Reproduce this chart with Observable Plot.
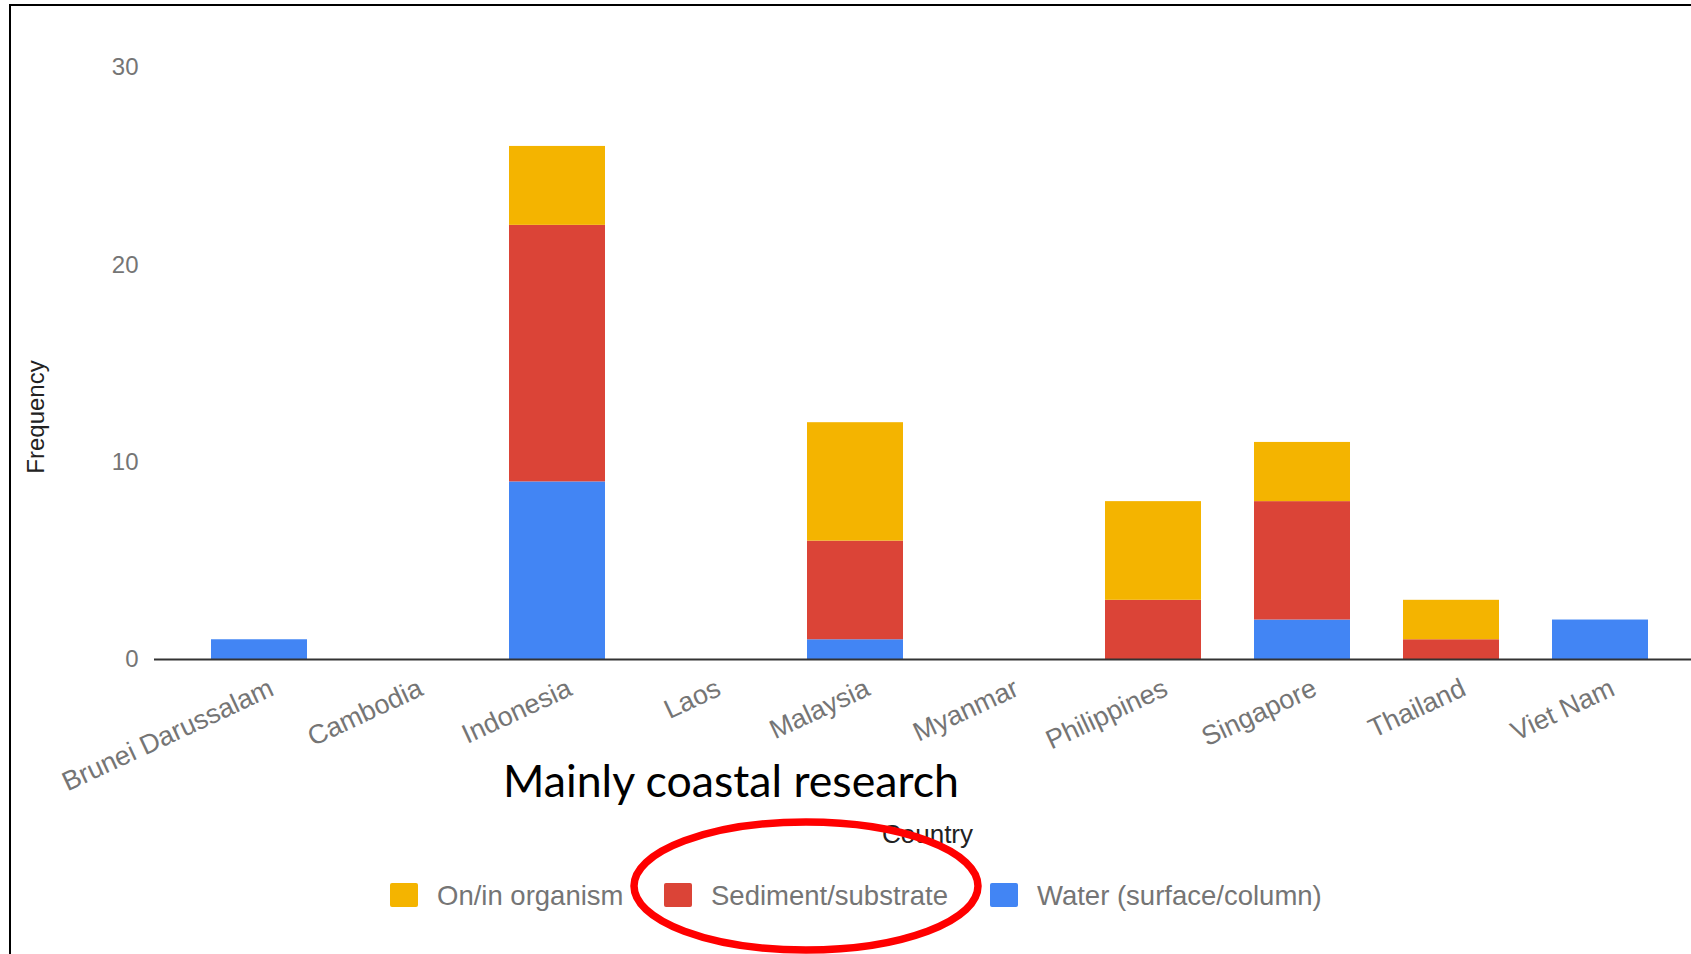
<!DOCTYPE html>
<html>
<head>
<meta charset="utf-8">
<script src="https://cdn.jsdelivr.net/npm/d3@7"></script>
<script src="https://cdn.jsdelivr.net/npm/@observablehq/plot@0.6"></script>
<style>
  html, body { margin: 0; padding: 0; background: #fff; }
  #wrap { position: relative; width: 1691px; height: 954px; overflow: hidden; }
  #wrap svg { display: block; }
  #border { position: absolute; left: 9px; top: 4px; width: 3000px; height: 3000px;
            border-left: 2.5px solid #000; border-top: 2.5px solid #000; pointer-events: none; }
</style>
</head>
<body>
<div id="wrap"><div id="border"></div></div>
<script>
// ---- data ----
const countries = ["Brunei Darussalam", "Cambodia", "Indonesia", "Laos", "Malaysia",
                   "Myanmar", "Philippines", "Singapore", "Thailand", "Viet Nam"];
const water    = [1, 0, 9, 0, 1, 0, 0, 2, 0, 2];
const sediment = [0, 0, 13, 0, 5, 0, 3, 6, 1, 0];
const organism = [0, 0, 4, 0, 6, 0, 5, 3, 2, 0];
const seriesNames  = ["On/in organism", "Sediment/substrate", "Water (surface/column)"];
const seriesColors = ["#F4B400", "#DB4437", "#4285F4"];
const yTicks = [0, 10, 20, 30];
const yLabel = "Frequency";
const xLabel = "Country";
const annotation = "Mainly coastal research";

// stack order bottom -> top : water, sediment, organism
const rows = [];
countries.forEach((c, i) => {
  rows.push({country: c, series: seriesNames[2], value: water[i]});
  rows.push({country: c, series: seriesNames[1], value: sediment[i]});
  rows.push({country: c, series: seriesNames[0], value: organism[i]});
});
const bars = rows.filter(d => d.value > 0);

const W = 1691, H = 954;
const font = "'Liberation Sans', Arial, sans-serif";

const svg = Plot.plot({
  width: W,
  height: H,
  marginLeft: 154,
  marginRight: 0,
  marginTop: 67,
  marginBottom: 295,
  style: {fontFamily: font, background: "transparent"},
  x: {type: "band", domain: countries, range: [181, 1677.5], paddingInner: 0.357, paddingOuter: 0.1785},
  y: {domain: [0, 30]},
  color: {domain: seriesNames, range: seriesColors},
  marks: [
    Plot.barY(bars, {x: "country", y: "value", fill: "series", order: null}),
    Plot.ruleY([0], {stroke: "#333", strokeWidth: 2}),
    Plot.axisY({ticks: yTicks, tickSize: 0, tickPadding: 16, fontSize: 24, color: "#757575", label: null}),
    Plot.axisX({tickSize: 0, tickPadding: 35, tickRotate: -25, textAnchor: "end", lineAnchor: "bottom",
                dx: 16, fontSize: 27, color: "#757575", label: null}),
    Plot.text([xLabel], {frameAnchor: "bottom", dx: 4.5, dy: 183, lineAnchor: "bottom", fontSize: 26, fill: "#222"})
  ]
});

document.getElementById("wrap").prepend(svg);

const s = d3.select(svg);

// y-axis title
s.append("text")
  .attr("transform", "translate(36,417) rotate(-90)")
  .attr("text-anchor", "middle").attr("dy", "0.35em")
  .attr("font-family", font).attr("font-size", 24).attr("fill", "#222")
  .text(yLabel);

// annotation title (overlaid text)
s.append("text")
  .attr("x", 503).attr("y", 797)
  .attr("text-anchor", "start")
  .attr("font-family", "Lato, 'Open Sans', sans-serif")
  .attr("font-size", 44)
  .attr("fill", "#000")
  .attr("textLength", 456)
  .attr("lengthAdjust", "spacingAndGlyphs")
  .text(annotation);

// legend
const legendX = [390, 664, 990];
const lg = s.append("g").attr("text-anchor", "start");
seriesNames.forEach((name, i) => {
  lg.append("rect")
    .attr("x", legendX[i]).attr("y", 883).attr("width", 28).attr("height", 24).attr("rx", 2)
    .attr("fill", seriesColors[i]);
  lg.append("text")
    .attr("x", legendX[i] + 47).attr("y", 895).attr("dy", "0.35em")
    .attr("text-anchor", "start")
    .attr("font-family", font).attr("font-size", 27.5).attr("fill", "#757575")
    .text(name);
});

// red ellipse highlight
s.append("ellipse")
  .attr("cx", 806).attr("cy", 886).attr("rx", 172).attr("ry", 64)
  .attr("fill", "none").attr("stroke", "#ff0000").attr("stroke-width", 7.5);
</script>
</body>
</html>
